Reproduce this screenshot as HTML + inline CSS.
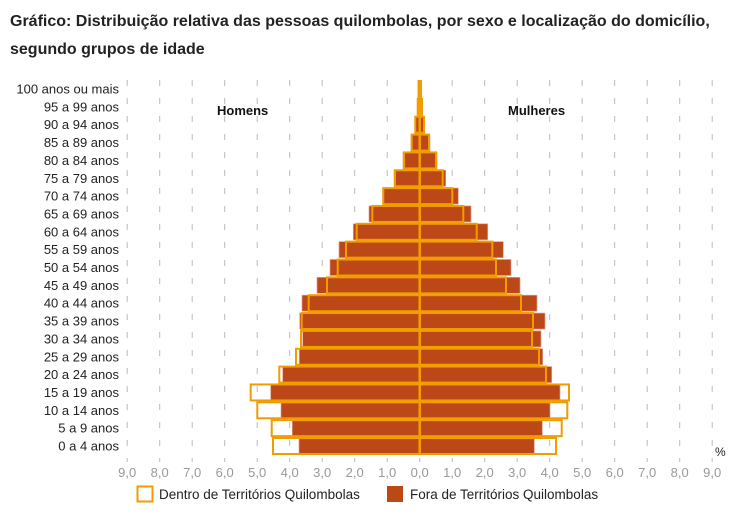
<!DOCTYPE html>
<html><head><meta charset="utf-8"><style>
body{margin:0;background:#fff;}
svg{display:block;font-family:"Liberation Sans",sans-serif;}
</style></head><body>
<svg width="740" height="530" xmlns="http://www.w3.org/2000/svg">
<text x="10" y="26" font-size="16" font-weight="bold" fill="#222">Gráfico: Distribuição relativa das pessoas quilombolas, por sexo e localização do domicílio,</text>
<text x="10" y="54" font-size="16" font-weight="bold" fill="#222">segundo grupos de idade</text>
<g id="grid" stroke="#bbb" stroke-width="1" stroke-dasharray="6,12"></g>
<g id="bars"></g>
<g id="labels" font-size="13" fill="#222" text-anchor="end"></g>
<g id="ticks" font-size="13" fill="#999" text-anchor="middle"></g>
<text x="217" y="115" font-size="13" font-weight="bold" fill="#111">Homens</text>
<text x="508" y="115" font-size="13" font-weight="bold" fill="#111">Mulheres</text>
<text x="715" y="456" font-size="12" fill="#222">%</text>
<rect x="137.5" y="486.5" width="15" height="15" fill="#fff" stroke="#f19c00" stroke-width="2"/>
<text x="159" y="499" font-size="13.5" fill="#222">Dentro de Territórios Quilombolas</text>
<rect x="387" y="486" width="16" height="16" fill="#bd4817"/>
<text x="410" y="499" font-size="13.5" fill="#222">Fora de Territórios Quilombolas</text>
<script>
var C=419.7,U=32.5,ns="http://www.w3.org/2000/svg";
function el(t,a,p,txt){var e=document.createElementNS(ns,t);for(var k in a)e.setAttribute(k,a[k]);if(txt)e.textContent=txt;document.getElementById(p).appendChild(e);}
for(var k=-9;k<=9;k++){var x=C+k*U;el('line',{x1:x,y1:80,x2:x,y2:462},'grid');
el('text',{x:x,y:477},'ticks',Math.abs(k)+',0');}
var labs=["0 a 4 anos","5 a 9 anos","10 a 14 anos","15 a 19 anos","20 a 24 anos","25 a 29 anos","30 a 34 anos","35 a 39 anos","40 a 44 anos","45 a 49 anos","50 a 54 anos","55 a 59 anos","60 a 64 anos","65 a 69 anos","70 a 74 anos","75 a 79 anos","80 a 84 anos","85 a 89 anos","90 a 94 anos","95 a 99 anos","100 anos ou mais"];
// [foraL, dentroL, dentroR, foraR] in px
var d=[[299,273,556,534.3],[292.3,271.7,561.7,542.3],[281,257.3,567.3,550],[270.7,250.7,569,560],[282.7,279.3,546,551.7],[299.3,296,539,542.7],[302.7,301,532,541],[299.7,301.7,533,545],[302,308.7,521,537],[317,327,506,520],[330,337.7,496,511],[339,346,492.3,503.3],[353.3,356.7,476.7,487.7],[369,372.3,463.3,471],[382.7,383.3,452.3,458.3],[394,395,442.7,445.7],[403,404,436,437],[411,411.7,429,430],[415.3,415.3,424,424],[417.7,417.7,422,422],[418.5,418.5,421,421]];
for(var i=0;i<21;i++){var y=438-17.85*i,h=16,r=d[i];
el('text',{x:119,y:y+12.5},'labels',labs[i]);
el('rect',{x:r[0],y:y,width:r[3]-r[0],height:h,fill:'#bd4817',stroke:'#e0a090','stroke-width':0.7},'bars');}
for(var i=0;i<21;i++){var y=438-17.85*i,h=16,r=d[i];
el('rect',{x:r[1],y:y,width:C-r[1],height:h,fill:'none',stroke:'#f19c00','stroke-width':2},'bars');
el('rect',{x:C,y:y,width:r[2]-C,height:h,fill:'none',stroke:'#f19c00','stroke-width':2},'bars');}
el('line',{x1:C,y1:80,x2:C,y2:455,stroke:'#f19c00','stroke-width':2.5},'bars');
</script>
</svg>
</body></html>
